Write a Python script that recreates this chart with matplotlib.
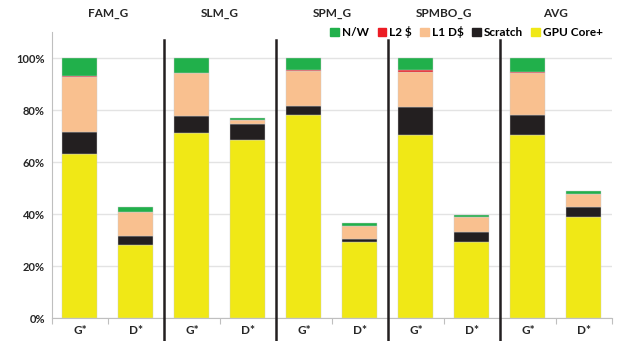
import numpy as np
import matplotlib
matplotlib.use("Agg")
import matplotlib.pyplot as plt
from matplotlib.patches import Patch

plt.rcParams['font.family'] = ['Lato', 'DejaVu Sans']
plt.rcParams['font.weight'] = 'bold'

# -----------------------------
# data (fractions of G* total)
# -----------------------------
groups = ["FAM_G", "SLM_G", "SPM_G", "SPMBO_G", "AVG"]
bars = ["G*", "D*"]

gpu_core = [63.0, 28.2, 71.2, 68.5, 78.0, 29.2, 70.6, 29.1, 70.6, 38.7]
scratch = [8.5, 3.5, 6.6, 6.1, 3.5, 1.3, 10.7, 4.1, 7.5, 3.9]
l1_d = [21.1, 9.1, 16.3, 1.5, 13.5, 5.0, 13.4, 5.5, 16.0, 5.1]
l2 = [0.4, 0.2, 0.3, 0.2, 0.6, 0.1, 0.6, 0.1, 0.4, 0.1]
nw = [7.0, 1.7, 5.6, 0.6, 4.4, 1.0, 4.7, 0.9, 5.5, 1.1]

series = [
    ("GPU Core+", gpu_core, "#F0E816"),
    ("Scratch", scratch, "#231F20"),
    ("L1 D$", l1_d, "#F9C08F"),
    ("L2 $", l2, "#EC1C24"),
    ("N/W", nw, "#21B04B"),
]

fig = plt.figure(figsize=(6.18, 3.41), dpi=100)
ax = fig.add_axes([0.084, 0.067, 0.906, 0.839])

x = np.arange(len(gpu_core)) + 0.5
bottom = np.zeros(len(x))
for name, vals, col in series:
    v = np.array(vals) / 100.0
    ax.bar(x, v, width=0.625, bottom=bottom, color=col, label=name,
           edgecolor="#cccccc", linewidth=0.3, zorder=3)
    bottom += v

ax.set_xlim(0, len(x))
ax.set_ylim(0, 1.1)
ax.set_yticks(np.arange(0, 1.01, 0.2))
ax.set_yticklabels([f"{int(round(t * 100))}%" for t in np.arange(0, 1.01, 0.2)],
                   fontsize=8, fontweight="bold", color="#262626")
ax.yaxis.grid(True, color="#e3e3e3", linewidth=1, zorder=0)
ax.tick_params(axis="y", length=0, pad=5)

# category boundary ticks, labels in between
ax.set_xticks(np.arange(0, len(x) + 1))
ax.set_xticklabels([])
ax.set_xticks(x, minor=True)
ax.set_xticklabels(bars * len(groups), minor=True, fontsize=8.5,
                   fontweight="bold", color="#262626")
ax.tick_params(axis="x", which="major", length=4, color="#bfbfbf")
ax.tick_params(axis="x", which="minor", length=0, pad=5)

for s in ["top", "right"]:
    ax.spines[s].set_visible(False)
ax.spines["left"].set_color("#bfbfbf")
ax.spines["bottom"].set_color("#bfbfbf")

# group dividers and titles
tr = ax.get_xaxis_transform()
for b in range(2, len(x), 2):
    ax.plot([b, b], [0.972, -0.09], transform=tr, color="#231F20",
            linewidth=1.8, clip_on=False, zorder=5)
for i, g in enumerate(groups):
    ax.text(2 * i + 1, 1.065, g, transform=tr, ha="center", va="center",
            fontsize=8.5, fontweight="bold", color="#262626")

handles = [Patch(color=c, label=n) for n, v, c in series[::-1]]
ax.legend(handles=handles, ncol=5, frameon=False, loc="center right",
          bbox_to_anchor=(0.993, 1.0), handlelength=0.7,
          handleheight=0.7, handletextpad=0.3, columnspacing=0.7,
          borderaxespad=0, prop={"weight": "bold", "size": 8.5})

fig.savefig("out.png", dpi=100)
